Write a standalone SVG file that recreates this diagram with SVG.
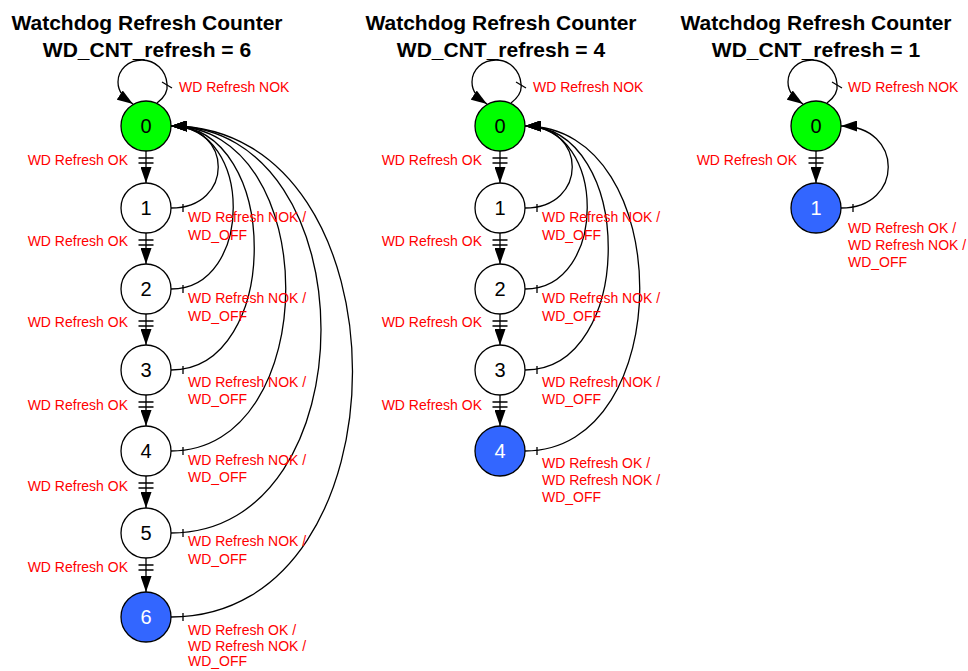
<svg xmlns="http://www.w3.org/2000/svg" width="968" height="671" viewBox="0 0 968 671">
<style>
.title{font-family:"Liberation Sans",Arial,sans-serif;font-size:21px;font-weight:bold;fill:#000;text-anchor:middle}
.lbl{font-family:"Liberation Sans",Arial,sans-serif;font-size:14px;fill:#FF0000}
.lblr{font-family:"Liberation Sans",Arial,sans-serif;font-size:14px;fill:#FF0000;text-anchor:end}
.num{font-family:"Liberation Sans",Arial,sans-serif;font-size:20px;fill:#000;text-anchor:middle}
.numw{font-family:"Liberation Sans",Arial,sans-serif;font-size:20px;fill:#FFFFFF;text-anchor:middle}
.st{stroke:#000;stroke-width:1.3}
.green{fill:#00FF00}
.white{fill:#FFFFFF}
.blue{fill:#3366FF}
.edge{fill:none;stroke:#000;stroke-width:1.3;marker-end:url(#arr)}
.tick{stroke:#000;stroke-width:1.3;fill:none}
</style>
<defs>
<marker id="arr" viewBox="0 0 16 11" refX="16" refY="5.5" markerWidth="16" markerHeight="11" markerUnits="userSpaceOnUse" orient="auto">
<path d="M0,0 L16,5.5 L0,11 z" fill="#000"/>
</marker>
</defs>
<rect width="968" height="671" fill="#FFFFFF"/>

<g id="titles">
<text class="title" x="147" y="30">Watchdog Refresh Counter</text>
<text class="title" x="147" y="57">WD_CNT_refresh = 6</text>
<text class="title" x="501" y="30">Watchdog Refresh Counter</text>
<text class="title" x="501" y="57">WD_CNT_refresh = 4</text>
<text class="title" x="816" y="30">Watchdog Refresh Counter</text>
<text class="title" x="816" y="57">WD_CNT_refresh = 1</text>
</g>

<g id="connectors">
<!-- Diagram 1 self loop -->
<path class="edge" d="M157,103 C165,97 168,90 167,84 C166,70 155,60 142,60 C128,60 118,70 118,82 C118,92 124,98 133,104"/>
<line class="tick" x1="162" y1="82" x2="172" y2="88"/>
<!-- Diagram 1 down arrows -->
<path class="edge" d="M146,151 L146,183"/>
<path class="edge" d="M146,233 L146,264"/>
<path class="edge" d="M146,314 L146,345"/>
<path class="edge" d="M146,395 L146,426"/>
<path class="edge" d="M146,476 L146,508"/>
<path class="edge" d="M146,558 L146,592"/>
<g class="tick">
<path d="M138.5,158 H153.5 M138.5,163 H153.5"/>
<path d="M138.5,240 H153.5 M138.5,245 H153.5"/>
<path d="M138.5,321 H153.5 M138.5,326 H153.5"/>
<path d="M138.5,402 H153.5 M138.5,407 H153.5"/>
<path d="M138.5,483 H153.5 M138.5,488 H153.5"/>
<path d="M138.5,565 H153.5 M138.5,570 H153.5"/>
</g>
<!-- Diagram 1 return arcs -->
<path class="edge" d="M171,208 C234,208 234,126 171,126"/>
<path class="edge" d="M171,289 C254,289 254,126 171,126"/>
<path class="edge" d="M171,370 C282,370 282,126 171,126"/>
<path class="edge" d="M171,451 C324,451 324,126 171,126"/>
<path class="edge" d="M171,533 C371,533 371,126 171,126"/>
<path class="edge" d="M171,617 C413,617 413,126 171,126"/>
<g class="tick">
<path d="M183,204 V212 M183,285 V293 M183,366 V374 M183,447 V455 M183,529 V537 M183,613 V621"/>
</g>

<!-- Diagram 2 self loop -->
<path class="edge" d="M511,103 C519,97 522,90 521,84 C520,70 509,60 496,60 C482,60 472,70 472,82 C472,92 478,98 487,104"/>
<line class="tick" x1="516" y1="82" x2="526" y2="88"/>
<!-- Diagram 2 down arrows -->
<path class="edge" d="M500,151 L500,183"/>
<path class="edge" d="M500,233 L500,264"/>
<path class="edge" d="M500,314 L500,345"/>
<path class="edge" d="M500,395 L500,426"/>
<g class="tick">
<path d="M492.5,158 H507.5 M492.5,163 H507.5"/>
<path d="M492.5,240 H507.5 M492.5,245 H507.5"/>
<path d="M492.5,321 H507.5 M492.5,326 H507.5"/>
<path d="M492.5,402 H507.5 M492.5,407 H507.5"/>
</g>
<!-- Diagram 2 return arcs -->
<path class="edge" d="M525,208 C588,208 588,126 525,126"/>
<path class="edge" d="M525,289 C608,289 608,126 525,126"/>
<path class="edge" d="M525,370 C636,370 636,126 525,126"/>
<path class="edge" d="M525,451 C678,451 678,126 525,126"/>
<g class="tick">
<path d="M537,204 V212 M537,285 V293 M537,366 V374 M537,447 V455"/>
</g>

<!-- Diagram 3 self loop -->
<path class="edge" d="M827,103 C835,97 838,90 837,84 C836,70 825,60 812,60 C798,60 788,70 788,82 C788,92 794,98 803,104"/>
<line class="tick" x1="832" y1="82" x2="842" y2="88"/>
<!-- Diagram 3 down arrow -->
<path class="edge" d="M816,151 L816,183"/>
<path class="tick" d="M808.5,158 H823.5 M808.5,163 H823.5"/>
<!-- Diagram 3 return arc -->
<path class="edge" d="M841,208 C904,208 904,126 841,126"/>
<path class="tick" d="M853,204 V212"/>
</g>

<!-- Diagram 1 nodes -->
<g id="d1_n0"><circle class="st green" cx="146" cy="126" r="25"/><text class="num" x="146" y="133">0</text></g>
<g id="d1_n1"><circle class="st white" cx="146" cy="208" r="25"/><text class="num" x="146" y="215">1</text></g>
<g id="d1_n2"><circle class="st white" cx="146" cy="289" r="25"/><text class="num" x="146" y="296">2</text></g>
<g id="d1_n3"><circle class="st white" cx="146" cy="370" r="25"/><text class="num" x="146" y="377">3</text></g>
<g id="d1_n4"><circle class="st white" cx="146" cy="451" r="25"/><text class="num" x="146" y="458">4</text></g>
<g id="d1_n5"><circle class="st white" cx="146" cy="533" r="25"/><text class="num" x="146" y="540">5</text></g>
<g id="d1_n6"><circle class="st blue" cx="146" cy="617" r="25"/><text class="numw" x="146" y="624">6</text></g>

<!-- Diagram 2 nodes -->
<g id="d2_n0"><circle class="st green" cx="500" cy="126" r="25"/><text class="num" x="500" y="133">0</text></g>
<g id="d2_n1"><circle class="st white" cx="500" cy="208" r="25"/><text class="num" x="500" y="215">1</text></g>
<g id="d2_n2"><circle class="st white" cx="500" cy="289" r="25"/><text class="num" x="500" y="296">2</text></g>
<g id="d2_n3"><circle class="st white" cx="500" cy="370" r="25"/><text class="num" x="500" y="377">3</text></g>
<g id="d2_n4"><circle class="st blue" cx="500" cy="451" r="25"/><text class="numw" x="500" y="458">4</text></g>

<!-- Diagram 3 nodes -->
<g id="d3_n0"><circle class="st green" cx="816" cy="126" r="25"/><text class="num" x="816" y="133">0</text></g>
<g id="d3_n1"><circle class="st blue" cx="816" cy="208" r="25"/><text class="numw" x="816" y="215">1</text></g>

<g id="labels">
<!-- Diagram 1 -->
<text class="lbl" x="179" y="92">WD Refresh NOK</text>
<text class="lblr" x="128" y="165">WD Refresh OK</text>
<text class="lblr" x="128" y="246">WD Refresh OK</text>
<text class="lblr" x="128" y="327">WD Refresh OK</text>
<text class="lblr" x="128" y="410">WD Refresh OK</text>
<text class="lblr" x="128" y="491">WD Refresh OK</text>
<text class="lblr" x="128" y="572">WD Refresh OK</text>
<text class="lbl" x="188" y="222">WD Refresh NOK /</text>
<text class="lbl" x="188" y="240">WD_OFF</text>
<text class="lbl" x="188" y="303">WD Refresh NOK /</text>
<text class="lbl" x="188" y="321">WD_OFF</text>
<text class="lbl" x="188" y="387">WD Refresh NOK /</text>
<text class="lbl" x="188" y="404">WD_OFF</text>
<text class="lbl" x="188" y="465">WD Refresh NOK /</text>
<text class="lbl" x="188" y="482">WD_OFF</text>
<text class="lbl" x="188" y="546">WD Refresh NOK /</text>
<text class="lbl" x="188" y="564">WD_OFF</text>
<text class="lbl" x="188" y="635">WD Refresh OK /</text>
<text class="lbl" x="188" y="651">WD Refresh NOK /</text>
<text class="lbl" x="188" y="666">WD_OFF</text>
<!-- Diagram 2 -->
<text class="lbl" x="533" y="92">WD Refresh NOK</text>
<text class="lblr" x="482" y="165">WD Refresh OK</text>
<text class="lblr" x="482" y="246">WD Refresh OK</text>
<text class="lblr" x="482" y="327">WD Refresh OK</text>
<text class="lblr" x="482" y="410">WD Refresh OK</text>
<text class="lbl" x="542" y="222">WD Refresh NOK /</text>
<text class="lbl" x="542" y="240">WD_OFF</text>
<text class="lbl" x="542" y="303">WD Refresh NOK /</text>
<text class="lbl" x="542" y="321">WD_OFF</text>
<text class="lbl" x="542" y="387">WD Refresh NOK /</text>
<text class="lbl" x="542" y="404">WD_OFF</text>
<text class="lbl" x="542" y="468">WD Refresh OK /</text>
<text class="lbl" x="542" y="485">WD Refresh NOK /</text>
<text class="lbl" x="542" y="502">WD_OFF</text>
<!-- Diagram 3 -->
<text class="lbl" x="848" y="92">WD Refresh NOK</text>
<text class="lblr" x="797" y="165">WD Refresh OK</text>
<text class="lbl" x="848" y="233">WD Refresh OK /</text>
<text class="lbl" x="848" y="250">WD Refresh NOK /</text>
<text class="lbl" x="848" y="267">WD_OFF</text>
</g>
</svg>
